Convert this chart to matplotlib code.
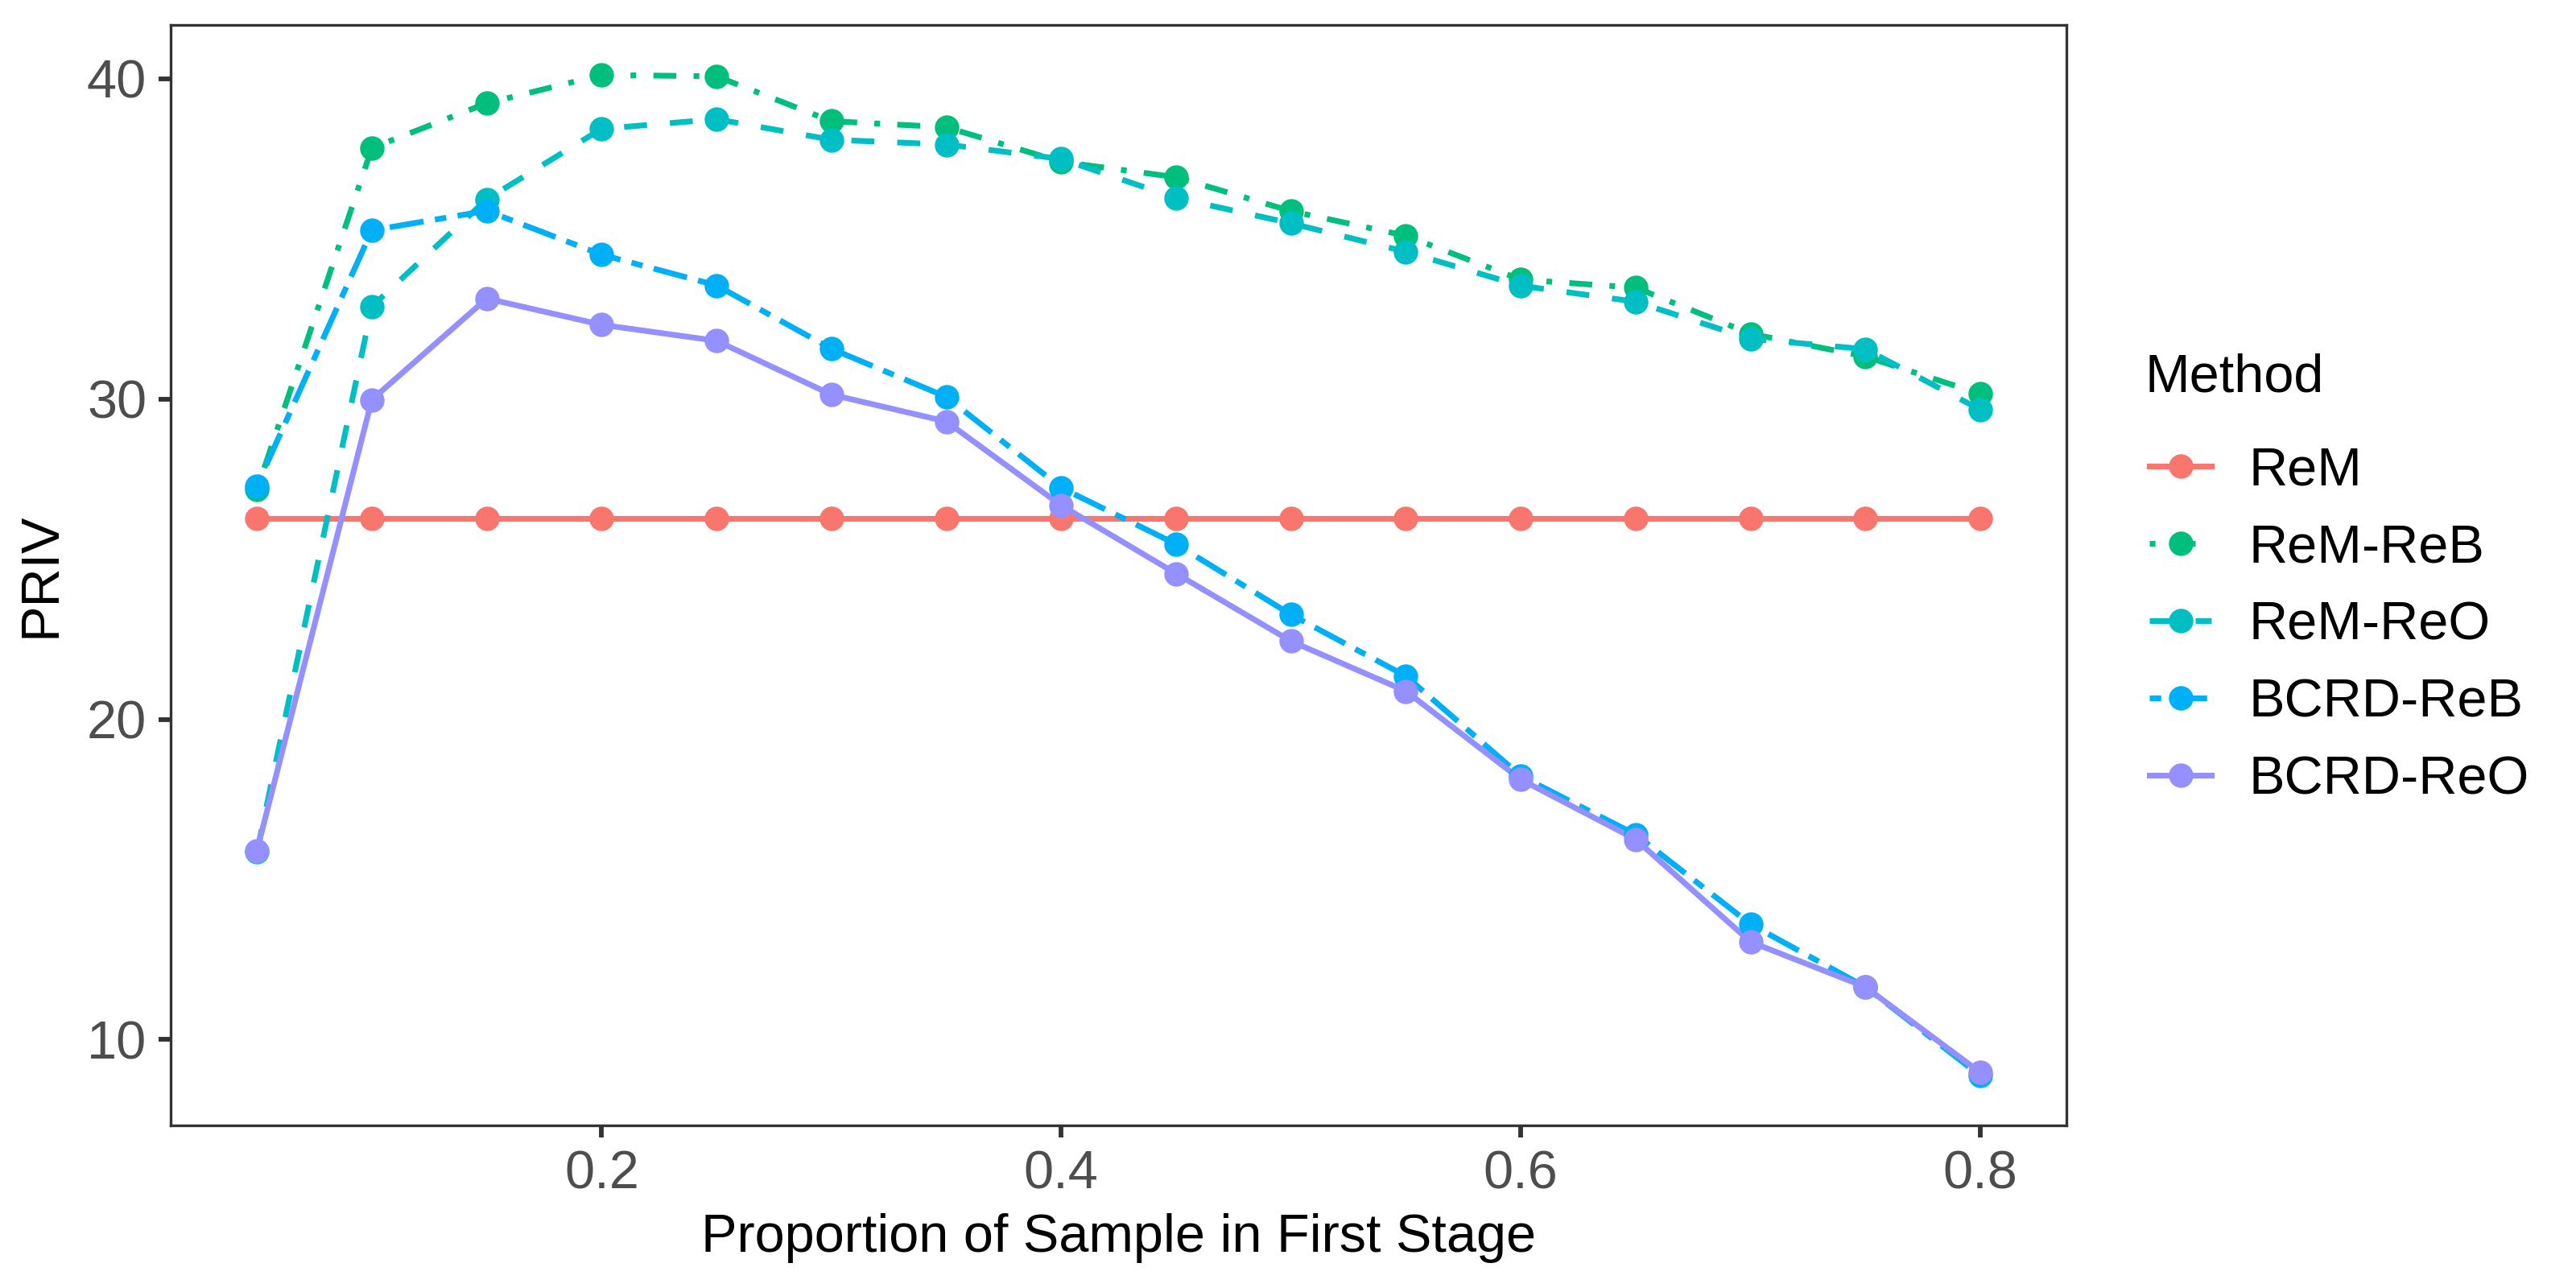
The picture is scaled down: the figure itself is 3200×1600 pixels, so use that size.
import matplotlib
matplotlib.use("Agg")
import matplotlib.pyplot as plt
from matplotlib.lines import Line2D

plt.rcParams['font.family'] = ['Liberation Sans', 'DejaVu Sans']

# proportion of sample in first stage
props = [0.05, 0.10, 0.15, 0.20, 0.25, 0.30, 0.35, 0.40,
         0.45, 0.50, 0.55, 0.60, 0.65, 0.70, 0.75, 0.80]

rem = [26.27] * 16
rem_reb = [27.17, 37.84, 39.24, 40.12, 40.08, 38.68, 38.49, 37.41,
           36.93, 35.87, 35.10, 33.73, 33.48, 32.04, 31.33, 30.16]
rem_reo = [15.86, 32.89, 36.24, 38.44, 38.74, 38.10, 37.95, 37.50,
           36.28, 35.49, 34.60, 33.54, 33.04, 31.88, 31.56, 29.67]
bcrd_reb = [27.29, 35.27, 35.88, 34.51, 33.55, 31.57, 30.07, 27.23,
            25.47, 23.27, 21.35, 18.23, 16.40, 13.60, 11.64, 8.87]
bcrd_reo = [15.90, 29.98, 33.14, 32.32, 31.82, 30.14, 29.30, 26.68,
            24.55, 22.44, 20.88, 18.12, 16.25, 13.05, 11.64, 8.97]

methods = ['ReM', 'ReM-ReB', 'ReM-ReO', 'BCRD-ReB', 'BCRD-ReO']
values = [rem, rem_reb, rem_reo, bcrd_reb, bcrd_reo]
colors = ['#F8766D', '#00BF7D', '#00BFC4', '#00B0F6', '#9590FF']
# ggplot linetypes: solid, dotdash (1343), dashed (44), twodash (2262), solid
dashes = [None, (1, 3, 4, 3), (4, 4), (2, 2, 6, 2), None]

lw = 1.71
ms = 7.3

fig = plt.figure(figsize=(3200 / 300, 1600 / 300), dpi=300)
ax = fig.add_axes([0.0663, 0.126, 0.7359, 0.8546])

handles = []
for name, vals, col, dsh in zip(methods, values, colors, dashes):
    line, = ax.plot(props, vals, color=col, lw=lw, zorder=2,
                    solid_capstyle='butt', dash_capstyle='butt')
    if dsh is not None:
        line.set_dashes(dsh)
    handles.append(Line2D([], [], color=col, lw=lw, marker='o', ms=ms,
                          markeredgewidth=0, dashes=dsh if dsh else (None, None)))
for vals, col in zip(values, colors):
    ax.plot(props, vals, linestyle='none', marker='o', ms=ms,
            markeredgewidth=0, color=col, zorder=3)

ax.margins(x=0.05, y=0.05)
ax.set_xticks([0.2, 0.4, 0.6, 0.8])
ax.set_xticklabels(['0.2', '0.4', '0.6', '0.8'])
ax.set_yticks([10, 20, 30, 40])

for sp in ax.spines.values():
    sp.set_color('#333333')
    sp.set_linewidth(0.8)
ax.tick_params(axis='both', length=3.6, width=1.4, color='#333333',
               labelsize=16, labelcolor='#4D4D4D', pad=3.6)

ax.set_xlabel('Proportion of Sample in First Stage', fontsize=16, labelpad=4)
ax.set_ylabel('PRIV', fontsize=16, labelpad=6)

# legend title placed separately to get the ggplot spacing
fig.text(0.8325, 0.7065, 'Method', fontsize=16, ha='left', va='center')
leg = fig.legend(handles=handles, labels=methods,
                 loc='center left', bbox_to_anchor=(0.8345, 0.5142),
                 frameon=False, fontsize=16,
                 handlelength=1.15, handletextpad=0.7, labelspacing=0.51,
                 borderpad=0, borderaxespad=0, numpoints=1)

fig.savefig('out.png', dpi=300)
